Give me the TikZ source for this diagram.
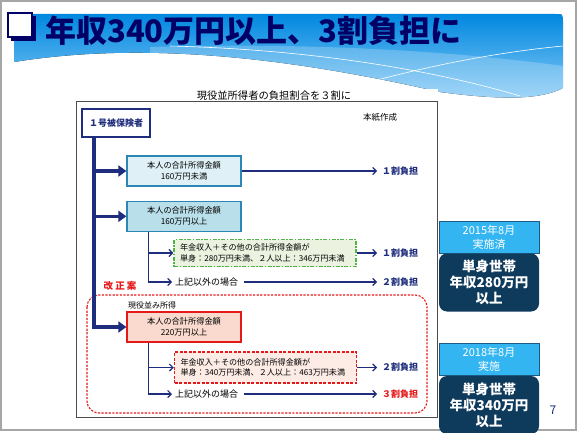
\documentclass[tikz,border=0pt]{standalone}
\usepackage{fontspec}
\setmainfont{Noto Sans CJK JP}
\usetikzlibrary{arrows, arrows.meta, positioning, backgrounds}

\definecolor{titlenavy}{RGB}{0,0,102}
\definecolor{flownavy}{RGB}{30,45,125}
\definecolor{boxteal}{RGB}{45,135,180}
\definecolor{lightcyan}{RGB}{223,241,247}
\definecolor{midcyan}{RGB}{185,223,234}
\definecolor{lightgreen}{RGB}{235,242,224}
\definecolor{dashgreen}{RGB}{80,180,70}
\definecolor{peach}{RGB}{250,218,206}
\definecolor{lightpeach}{RGB}{253,236,229}
\definecolor{reformred}{RGB}{230,25,25}
\definecolor{skyfill}{RGB}{51,181,242}
\definecolor{skyedge}{RGB}{30,90,130}
\definecolor{deepnavy}{RGB}{14,58,92}
\definecolor{bandtop}{RGB}{0,136,224}
\definecolor{bandlow}{RGB}{140,205,247}

\tikzstyle{insured} = [rectangle, draw=flownavy, line width=1.6pt, fill=white, text=flownavy, minimum width=68pt, minimum height=28pt, font=\fontsize{9}{11}\selectfont\bfseries]
\tikzstyle{income} = [rectangle, draw=boxteal, line width=1.3pt, fill=lightcyan, minimum width=114pt, minimum height=30pt, align=center, inner sep=0pt, font=\fontsize{8.2}{11}\selectfont]
\tikzstyle{pension} = [rectangle, draw=dashgreen, line width=1.5pt, dash pattern=on 4pt off 1.5pt on 1.5pt off 1.5pt, fill=lightgreen, text width=170pt, inner xsep=6pt, minimum height=27pt, align=left, font=\fontsize{8.1}{10.5}\selectfont]
\tikzstyle{burden} = [anchor=west, inner xsep=5pt, text=flownavy, font=\fontsize{9}{11}\selectfont\bfseries]
\tikzstyle{elsecase} = [anchor=west, inner xsep=3pt, font=\fontsize{9}{11}\selectfont]
\tikzstyle{trunkarrow} = [flownavy, line width=3.6pt, -{Triangle[length=8pt,width=11pt]}]
\tikzstyle{flowarrow} = [flownavy, line width=1.2pt, -{Straight Barb[length=3.5pt,width=7pt]}]
\tikzstyle{startdate} = [rectangle, draw=skyedge, line width=0.6pt, fill=skyfill, text=white, minimum width=100pt, minimum height=32pt, inner sep=0pt, align=center, font=\fontsize{11}{14}\selectfont]
\tikzstyle{target} = [rectangle, rounded corners=8pt, fill=deepnavy, text=white, minimum width=100pt, minimum height=58pt, inner sep=0pt, align=center, font=\fontsize{13.5}{16}\selectfont\bfseries]

\begin{document}
\begin{tikzpicture}[x=1pt, y=-1pt]
\useasboundingbox (0,0) rectangle (578,433);
\fill[white] (0,0) rectangle (578,433);
\draw[gray!70, line width=1.2pt] (1,1) rectangle (576,430);

% header band
\begin{scope}
\clip (14,14) -- (555,14) .. controls (563,14) .. (563,22) -- (563,88) .. controls (540,100) and (500,100) .. (440,92) .. controls (300,60) and (150,40) .. (14,62) -- cycle;
\fill[top color=bandtop, bottom color=bandlow] (14,14) rectangle (563,102);
\fill[white, opacity=0.22] (150,47) .. controls (320,42) and (460,52) .. (563,66) -- (563,110) -- (150,110) -- cycle;
\draw[white, line width=0.6pt] (170,46) .. controls (330,50) and (450,75) .. (520,96);
\draw[white, line width=0.6pt] (355,86) .. controls (430,65) and (500,52) .. (563,46);
\end{scope}
\fill[titlenavy] (11,16) rectangle (36,41);
\draw[titlenavy, fill=white, line width=1.5pt] (8,13) rectangle (32,37);
\node[anchor=west, inner sep=0pt, text=titlenavy, font=\fontsize{31}{31}\selectfont\bfseries] (title) at (45,31) {年収340万円以上、3割負担に};

% embedded chart
\fill[white] (67,89) rectangle (438,101);
\draw[gray!60!black, line width=0.9pt, fill=white] (76,101) rectangle (437,417);
\node[font=\fontsize{10.3}{12}\selectfont] (caption) at (274,96) {現役並所得者の負担割合を３割に};
\node[font=\fontsize{8.5}{10}\selectfont] (memo) at (380,117) {本紙作成};

\node (insured) [insured] at (116,123) {１号被保険者};
\coordinate (trunktop) at ([xshift=13pt]insured.south west);

\node (low) [income] at (184,171) {本人の合計所得金額\\160万円未満};
\node (mid) [income, fill=midcyan, below=14pt of low] {本人の合計所得金額\\160万円以上};
\coordinate (forkmid) at ([xshift=22pt]mid.south west);
\node (pensionmid) [pension] at (265,253) {年金収入＋その他の合計所得金額が\\単身：280万円未満、２人以上：346万円未満};
\node (elsemid) [elsecase] at (172,282) {上記以外の場合};

\node (res1a) [burden] at (377,171) {１割負担};
\node (res1b) [burden] at (377,253) {１割負担};
\node (res2a) [burden] at (377,282) {２割負担};

% reform proposal
\node[text=reformred, font=\fontsize{9.5}{11}\selectfont\bfseries] (reform) at (120,286) {改 正 案};
\draw[reformred, line width=1.1pt, dash pattern=on 2.2pt off 1.4pt, rounded corners=12pt] (87,295) rectangle (427,413);
\node[anchor=west, inner sep=0pt, font=\fontsize{8}{10}\selectfont] (active) at (128,305) {現役並み所得};

\node (high) [income, draw=reformred, fill=peach] at (184,327) {本人の合計所得金額\\220万円以上};
\coordinate (forkhigh) at ([xshift=22pt]high.south west);
\node (pensionhigh) [pension, draw=reformred, fill=lightpeach, dash pattern=on 3pt off 1.5pt, minimum height=31pt] at (265.5,367.5) {年金収入＋その他の合計所得金額が\\単身：340万円未満、２人以上：463万円未満};
\node (elsehigh) [elsecase] at (172,394) {上記以外の場合};

\node (res2b) [burden] at (377,367.5) {２割負担};
\node (res3) [burden, text=reformred] at (377,394) {３割負担};

% connectors
\draw[trunkarrow] (trunktop |- low) -- (low);
\draw[trunkarrow] (trunktop |- mid) -- (mid);
\draw[trunkarrow] (trunktop) |- (high);

\draw[flowarrow] (low) -- (res1a);
\draw[flowarrow] (forkmid) |- (pensionmid);
\draw[flowarrow] (forkmid) |- (elsemid);
\draw[flowarrow] (pensionmid) -- (res1b);
\draw[flowarrow, shorten <=3pt] (elsemid) -- (res2a);

\draw[flowarrow] (forkhigh) |- (pensionhigh);
\draw[flowarrow] (forkhigh) |- (elsehigh);
\draw[flowarrow] (pensionhigh) -- (res2b);
\draw[flowarrow, shorten <=3pt] (elsehigh) -- (res3);

% right side
\node (when15) [startdate] at (489,237) {2015年8月\\実施済};
\node (rule15) [target, below=0pt of when15] {単身世帯\\年収280万円\\以上};
\node (when18) [startdate] at (489,359.5) {2018年8月\\実施};
\node (rule18) [target, below=0pt of when18] {単身世帯\\年収340万円\\以上};

\node[text=flownavy, font=\fontsize{12}{14}\selectfont] (page) at (553,410) {7};
\end{tikzpicture}
\end{document}
